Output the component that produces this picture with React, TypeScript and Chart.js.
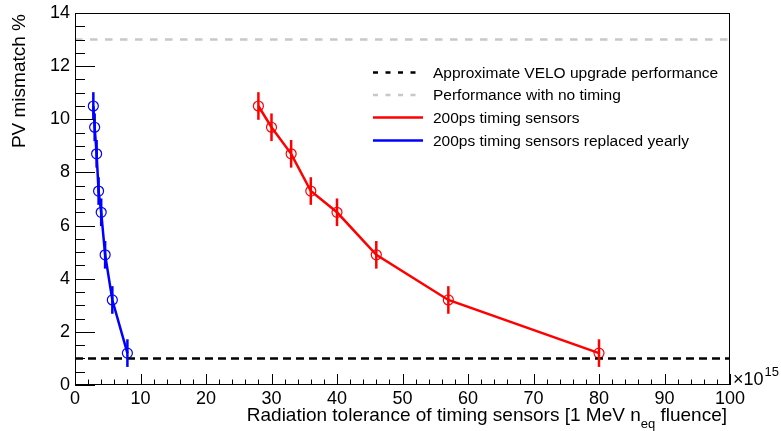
import React, { useEffect, useRef } from "react";
import { Chart, registerables } from "chart.js";

Chart.register(...registerables);

// ---- data ----
const fluenceSensors = [28, 30, 33, 36, 40, 46, 57, 80];
const fluenceYearly = [2.8, 3.0, 3.3, 3.6, 4.0, 4.6, 5.7, 8.0];
const mismatchSensors = [10.5, 9.7, 8.7, 7.3, 6.5, 4.9, 3.2, 1.2];
const mismatchYearly = [10.5, 9.7, 8.7, 7.3, 6.5, 4.9, 3.2, 1.2];
const mismatchErr = [0.52, 0.52, 0.52, 0.52, 0.52, 0.52, 0.52, 0.52];
const veloLevel = 1;
const noTimingLevel = 13;
const xRange = [0, 100];
const yRange = [0, 14];
const legendLabels = [
  "Approximate VELO upgrade performance",
  "Performance with no timing",
  "200ps timing sensors",
  "200ps timing sensors replaced yearly",
];
const xTitleMain = "Radiation tolerance of timing sensors [1 MeV n";
const xTitleSub = "eq";
const xTitleTail = " fluence]";
const yTitle = "PV mismatch %";
const xExponent = "15";

const FONT = '"Liberation Sans", Arial, Helvetica, sans-serif';

const decorPlugin = {
  id: "rootDecor",
  afterDatasetsDraw(chart: any) {
    const ctx = chart.ctx;
    const ys = chart.scales.y;
    ctx.save();
    // error bars
    chart.data.datasets.forEach((ds: any, i: number) => {
      if (!ds.errors) return;
      const meta = chart.getDatasetMeta(i);
      ctx.strokeStyle = ds.borderColor;
      ctx.lineWidth = 2.5;
      ctx.lineCap = "butt";
      meta.data.forEach((el: any, j: number) => {
        const v = ds.data[j].y;
        const e = ds.errors[j];
        ctx.beginPath();
        ctx.moveTo(el.x, ys.getPixelForValue(v + e));
        ctx.lineTo(el.x, ys.getPixelForValue(v - e));
        ctx.stroke();
      });
    });
    ctx.restore();
  },
  afterDraw(chart: any) {
    const ctx = chart.ctx;
    const xs = chart.scales.x;
    const ys = chart.scales.y;
    const a = chart.chartArea;
    ctx.save();
    // frame
    ctx.strokeStyle = "#000";
    ctx.lineWidth = 1;
    ctx.strokeRect(Math.round(a.left) + 0.5, Math.round(a.top) + 0.5, Math.round(a.right - a.left) - 1, Math.round(a.bottom - a.top) - 1);
    // y ticks
    ctx.beginPath();
    for (let v = yRange[0]; v <= yRange[1] + 1e-9; v += 0.5) {
      const y = Math.round(ys.getPixelForValue(v)) + 0.5;
      const major = Math.abs(v / 2 - Math.round(v / 2)) < 1e-6;
      const len = major ? 20 : 10;
      ctx.moveTo(a.left, y);
      ctx.lineTo(a.left + len, y);
    }
    // x ticks
    for (let v = xRange[0]; v <= xRange[1] + 1e-9; v += 2) {
      const x = Math.round(xs.getPixelForValue(v)) + 0.5;
      const major = Math.abs(v / 10 - Math.round(v / 10)) < 1e-6;
      const len = major ? 11 : 5.5;
      ctx.moveTo(x, a.bottom);
      ctx.lineTo(x, a.bottom - len);
    }
    ctx.stroke();

    // legend
    const lx0 = 373;
    const lx1 = 423;
    const rowsY = [72.5, 95, 117.5, 140.5];
    const legendStyles = [
      { color: "#000", dash: [5, 7.5], width: 2.5 },
      { color: "#c8c8c8", dash: [5, 7.5], width: 2.5 },
      { color: "#ff0000", dash: [], width: 2.5 },
      { color: "#0000ff", dash: [], width: 2.5 },
    ];
    ctx.font = `15.5px ${FONT}`;
    ctx.textBaseline = "middle";
    ctx.textAlign = "left";
    legendLabels.forEach((lab, i) => {
      const st = legendStyles[i];
      ctx.beginPath();
      ctx.setLineDash(st.dash);
      ctx.strokeStyle = st.color;
      ctx.lineWidth = st.width;
      ctx.moveTo(lx0, rowsY[i]);
      ctx.lineTo(lx1, rowsY[i]);
      ctx.stroke();
      ctx.setLineDash([]);
      ctx.fillStyle = "#000";
      ctx.fillText(lab, 433, rowsY[i] + 1);
    });

    // x title
    ctx.fillStyle = "#000";
    ctx.textBaseline = "alphabetic";
    ctx.font = `19px ${FONT}`;
    const wMain = ctx.measureText(xTitleMain).width;
    const wTail = ctx.measureText(xTitleTail).width;
    ctx.font = `13px ${FONT}`;
    const wSub = ctx.measureText(xTitleSub).width;
    const right = 727;
    const start = right - (wMain + wSub + wTail);
    ctx.font = `19px ${FONT}`;
    ctx.fillText(xTitleMain, start, 421);
    ctx.fillText(xTitleTail, start + wMain + wSub, 421);
    ctx.font = `13px ${FONT}`;
    ctx.fillText(xTitleSub, start + wMain, 428);

    // exponent
    ctx.font = `18px ${FONT}`;
    ctx.fillText("\u00d710", a.right + 3, 385);
    const wx = ctx.measureText("\u00d710").width;
    ctx.font = `13px ${FONT}`;
    ctx.fillText(xExponent, a.right + 3 + wx + 1, 376);

    // y title
    ctx.save();
    ctx.translate(25, 14);
    ctx.rotate(-Math.PI / 2);
    ctx.font = `19px ${FONT}`;
    ctx.textAlign = "right";
    ctx.textBaseline = "alphabetic";
    ctx.fillText(yTitle, 0, 0);
    ctx.restore();

    ctx.restore();
  },
};

export default function App() {
  const ref = useRef<HTMLCanvasElement | null>(null);
  useEffect(() => {
    if (!ref.current) return;
    const chart = new Chart(ref.current, {
      type: "scatter",
      data: {
        datasets: [
          {
            label: legendLabels[0],
            data: [
              { x: xRange[0], y: veloLevel },
              { x: xRange[1], y: veloLevel },
            ],
            showLine: true,
            borderColor: "#000",
            borderWidth: 2.5,
            borderDash: [8, 5],
            pointRadius: 0,
          },
          {
            label: legendLabels[1],
            data: [
              { x: xRange[0], y: noTimingLevel },
              { x: xRange[1], y: noTimingLevel },
            ],
            showLine: true,
            borderColor: "#c8c8c8",
            borderWidth: 2.5,
            borderDash: [7.5, 7.5],
            pointRadius: 0,
          },
          {
            label: legendLabels[2],
            data: fluenceSensors.map((x, i) => ({ x, y: mismatchSensors[i] })),
            errors: mismatchErr,
            showLine: true,
            borderColor: "#ff0000",
            borderWidth: 2.5,
            pointRadius: 5,
            pointBorderWidth: 1.2,
            pointBorderColor: "#ff0000",
            pointBackgroundColor: "rgba(0,0,0,0)",
          } as any,
          {
            label: legendLabels[3],
            data: fluenceYearly.map((x, i) => ({ x, y: mismatchYearly[i] })),
            errors: mismatchErr,
            showLine: true,
            borderColor: "#0000ff",
            borderWidth: 2.5,
            pointRadius: 5,
            pointBorderWidth: 1.2,
            pointBorderColor: "#0000ff",
            pointBackgroundColor: "rgba(0,0,0,0)",
          } as any,
        ],
      },
      options: {
        animation: false,
        responsive: false,
        devicePixelRatio: 1,
        layout: { padding: { top: 13, right: 51, left: 0, bottom: 0 } },
        elements: { line: { tension: 0 } },
        plugins: { legend: { display: false }, tooltip: { enabled: false } },
        scales: {
          x: {
            type: "linear",
            min: xRange[0],
            max: xRange[1],
            grid: { display: false, drawTicks: false, tickLength: 0 },
            border: { display: false },
            ticks: {
              stepSize: 10,
              padding: 3,
              color: "#000",
              maxRotation: 0,
              autoSkip: false,
              font: { family: FONT, size: 18 },
            },
            afterFit: (s: any) => {
              s.height = 46;
              s.paddingLeft = 0;
              s.paddingRight = 0;
            },
          },
          y: {
            type: "linear",
            min: yRange[0],
            max: yRange[1],
            grid: { display: false, drawTicks: false, tickLength: 0 },
            border: { display: false },
            ticks: {
              stepSize: 2,
              padding: 5,
              color: "#000",
              autoSkip: false,
              font: { family: FONT, size: 18 },
            },
            afterFit: (s: any) => {
              s.width = 75;
              s.paddingTop = 0;
              s.paddingBottom = 0;
            },
          },
        },
      } as any,
      plugins: [decorPlugin],
    });
    return () => chart.destroy();
  }, []);
  return (
    <div style={{ position: "absolute", left: 0, top: 0, width: 781, height: 431, background: "#fff" }}>
      <canvas ref={ref} width={781} height={431} />
    </div>
  );
}
